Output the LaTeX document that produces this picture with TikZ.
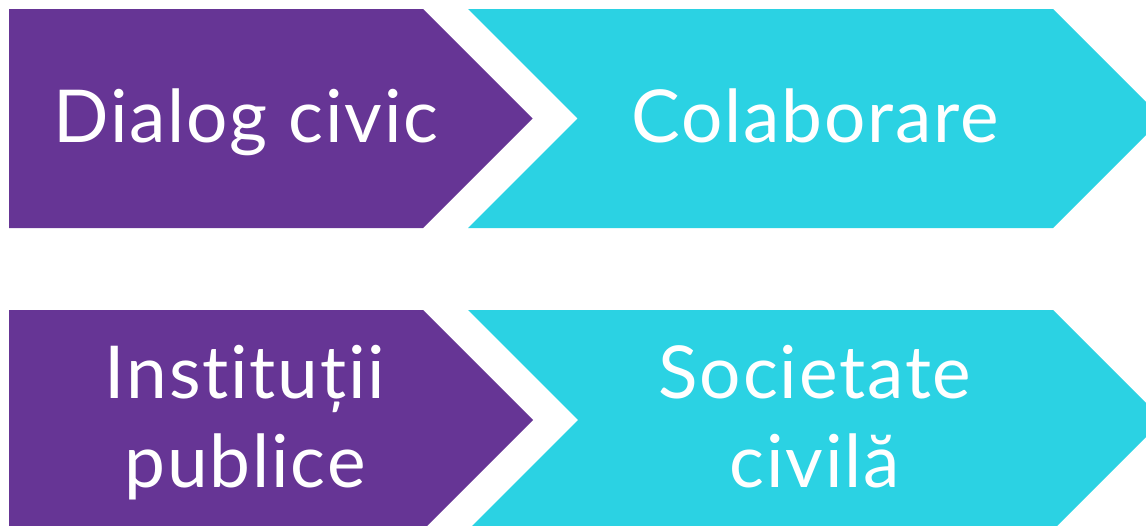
\documentclass[tikz,border=0pt]{standalone}
\usepackage{fontspec}
\setmainfont{Lato}[Ligatures=NoCommon,LetterSpace=2.5]
\definecolor{chevpurple}{HTML}{663595}
\definecolor{chevcyan}{HTML}{2BD2E3}
\begin{document}
\begin{tikzpicture}[x=1pt,y=-1pt,
  lbl/.style={text=white,font=\fontsize{73}{89}\selectfont,align=center,anchor=base,inner sep=0pt}]
\useasboundingbox (0,0) rectangle (1146,525);
\clip (0,0) rectangle (1146,525);
% top row
\fill[chevpurple] (9,9) -- (423,9) -- (532.5,118.5) -- (423,228) -- (9,228) -- cycle;
\fill[chevcyan] (468,9) -- (1053,9) -- (1162.5,118.5) -- (1053,228) -- (468,228) -- (577.5,118.5) -- cycle;
% bottom row
\fill[chevpurple] (9,310) -- (423,310) -- (533,420) -- (423,530) -- (9,530) -- cycle;
\fill[chevcyan] (468,310) -- (1053,310) -- (1163,420) -- (1053,530) -- (468,530) -- (578,420) -- cycle;
% labels
\node[lbl] (dialog) at (246,142) {Dialog civic};
\node[lbl] (colab) at (815,142) {Colaborare};
\node[lbl] (inst) at (245,398) {Instituții};
\node[lbl] (publ) at (245,487) {publice};
\node[lbl] (soc) at (815,398) {Societate};
\node[lbl] (civ) at (815,487) {civilă};
\end{tikzpicture}
\end{document}
